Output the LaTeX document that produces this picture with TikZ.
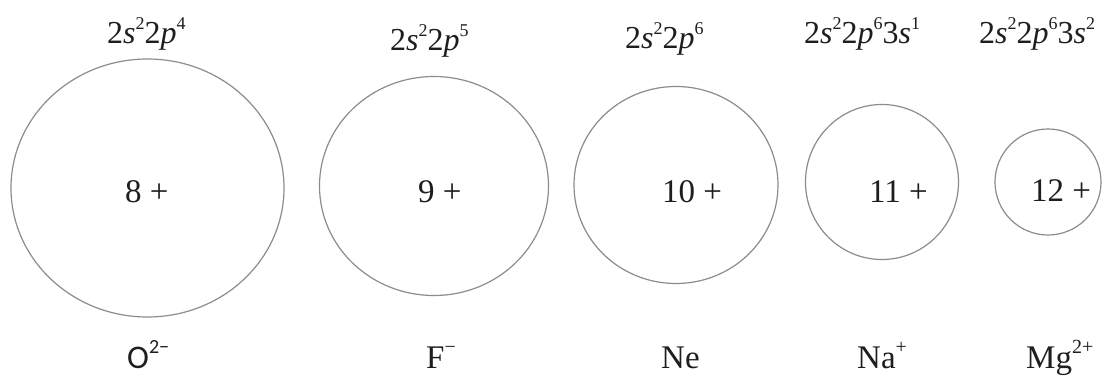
\documentclass[tikz,border=0pt]{standalone}
\usepackage{fontspec}
\setmainfont{Liberation Serif}
\newfontfamily\sanso{Carlito}
\usetikzlibrary{shapes.geometric}
\definecolor{ink}{HTML}{1E1E1E}
\definecolor{shellgray}{HTML}{8C8C8C}
\newcommand{\upx}[1]{\raisebox{14pt}{\fontsize{18}{18}\selectfont #1}}
\newcommand{\upi}[1]{\raisebox{15pt}{\fontsize{20}{20}\selectfont #1}}
\begin{document}
\begin{tikzpicture}[x=1pt,y=-1pt,
  shell/.style={draw=shellgray, line width=1.2pt, ellipse, inner sep=0pt},
  cfg/.style={font=\fontsize{32}{32}\selectfont, anchor=base west, text=ink, inner sep=0pt},
  core/.style={font=\fontsize{33}{33}\selectfont, anchor=base west, text=ink, inner sep=0pt},
  ion/.style={font=\fontsize{33}{33}\selectfont, anchor=base west, text=ink, inner sep=0pt}]
\fill[white] (0,0) rectangle (1112,383);
\useasboundingbox (0,0) rectangle (1112,383);

% shells
\node[shell, minimum width=273pt, minimum height=258pt] (cO)  at (147.5,188) {};
\node[shell, minimum width=229pt, minimum height=219pt] (cF)  at (434,186) {};
\node[shell, minimum width=204pt, minimum height=197pt] (cNe) at (676,185) {};
\node[shell, minimum width=153pt, minimum height=155pt] (cNa) at (882,182) {};
\node[shell, minimum width=106pt, minimum height=106pt] (cMg) at (1048,182) {};

% nuclear charges
\node[core] (kO)  at (125,202) {8 +};
\node[core] (kF)  at (418,202) {9 +};
\node[core] (kNe) at (662,202) {10 +};
\node[core] (kNa) at (869,202) {11 +};
\node[core] (kMg) at (1031,201) {12 +};

% configurations
\node[cfg] (eO)  at (107,43) {2\textit{s}\upx{2}2\textit{p}\upx{4}};
\node[cfg] (eF)  at (390,50) {2\textit{s}\upx{2}2\textit{p}\upx{5}};
\node[cfg] (eNe) at (625,48) {2\textit{s}\upx{2}2\textit{p}\upx{6}};
\node[cfg] (eNa) at (804,43) {2\textit{s}\upx{2}2\textit{p}\upx{6}3\textit{s}\upx{1}};
\node[cfg] (eMg) at (979,43) {2\textit{s}\upx{2}2\textit{p}\upx{6}3\textit{s}\upx{2}};

% ion names
\node[ion] (nO)  at (127,368) {{\sanso O\upi{2−}}};
\node[ion] (nF)  at (426,368) {F\upi{−}};
\node[ion] (nNe) at (661,368) {Ne};
\node[ion] (nNa) at (857,368) {Na\upi{+}};
\node[ion] (nMg) at (1026,368) {Mg\upi{2+}};
\end{tikzpicture}
\end{document}
